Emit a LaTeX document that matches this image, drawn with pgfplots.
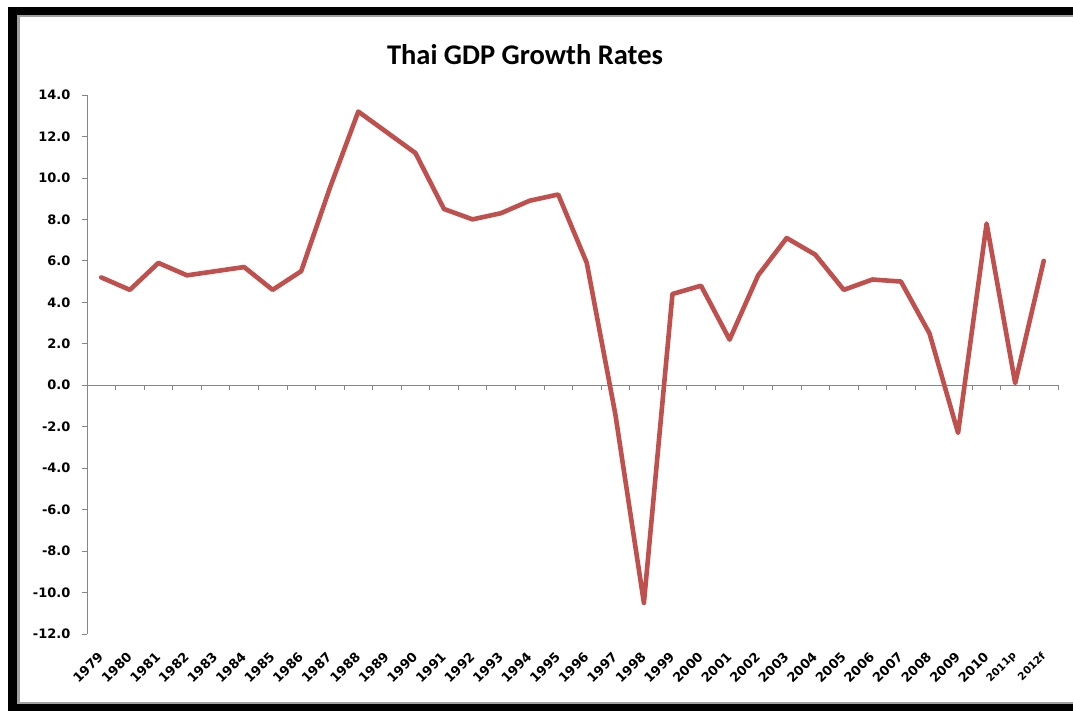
\documentclass[border=0pt]{standalone}
\usepackage{pgfplots}
\pgfplotsset{compat=1.18}
\usepackage{fontspec}
\setmainfont{DejaVu Sans}
\newfontfamily\titlefont{Carlito}

\definecolor{linered}{RGB}{192,80,77}
\definecolor{axisgray}{RGB}{134,134,134}
\definecolor{framegray}{RGB}{160,160,160}

\pgfplotsset{
  gdpbase/.style={
    at={(87pt,77pt)}, anchor=south west,
    scale only axis, width=971pt, height=539pt,
    xmin=-0.5, xmax=33.5, ymin=-12, ymax=14,
  },
}

\begin{document}
\begin{tikzpicture}[x=1pt,y=1pt]
  \useasboundingbox (0,0) rectangle (1073,711);
  % frame with shadow
  \fill[black] (8,0) rectangle (1073,704);
  \fill[framegray] (17,7) rectangle (1073,696);
  \fill[white] (20,9) rectangle (1073,694);
  \node[font=\titlefont\bfseries\fontsize{28.5}{28.5}\selectfont] at (525,656) {Thai GDP Growth Rates};

  % axis lines, y labels and the line
  \begin{axis}[
    gdpbase,
    axis x line=middle, axis y line=left,
    axis line style={axisgray, line width=0.8pt, -},
    hide obscured x ticks=false, hide obscured y ticks=false,
    tick style={axisgray, line width=0.8pt},
    tick align=outside,
    major tick length=5pt,
    xtick={-0.5,0.5,...,33.5}, xticklabels={},
    ytick={-12,-10,...,14},
    yticklabels={-12.0,-10.0,-8.0,-6.0,-4.0,-2.0,0.0,2.0,4.0,6.0,8.0,10.0,12.0,14.0},
    yticklabel style={font=\bfseries\fontsize{13}{13}\selectfont, xshift=-8pt},
  ]
    \addplot[linered, line width=4.6pt, line join=round, line cap=round] coordinates {
      (0,5.2) (1,4.6) (2,5.9) (3,5.3) (4,5.5) (5,5.7) (6,4.6) (7,5.5)
      (8,9.5) (9,13.2) (10,12.2) (11,11.2) (12,8.5) (13,8.0) (14,8.3)
      (15,8.9) (16,9.2) (17,5.9) (18,-1.4) (19,-10.5) (20,4.4) (21,4.8)
      (22,2.2) (23,5.3) (24,7.1) (25,6.3) (26,4.6) (27,5.1) (28,5.0)
      (29,2.5) (30,-2.3) (31,7.8) (32,0.1) (33,6.0)
    };
  \end{axis}

  % category labels along the bottom
  \begin{axis}[
    gdpbase,
    hide y axis,
    axis x line*=bottom, x axis line style={draw=none},
    major tick length=0pt, xtick style={draw=none},
    xtick={0,...,33},
    xticklabels={1979,1980,1981,1982,1983,1984,1985,1986,1987,1988,1989,
      1990,1991,1992,1993,1994,1995,1996,1997,1998,1999,2000,2001,2002,
      2003,2004,2005,2006,2007,2008,2009,2010,
      {\fontsize{10.5}{10.5}\selectfont 2011p},{\fontsize{10.5}{10.5}\selectfont 2012f}},
    xticklabel style={yshift=-18pt, xshift=2pt, rotate=45, anchor=east,
      font=\bfseries\fontsize{13}{13}\selectfont},
  ]
  \end{axis}
\end{tikzpicture}
\end{document}
